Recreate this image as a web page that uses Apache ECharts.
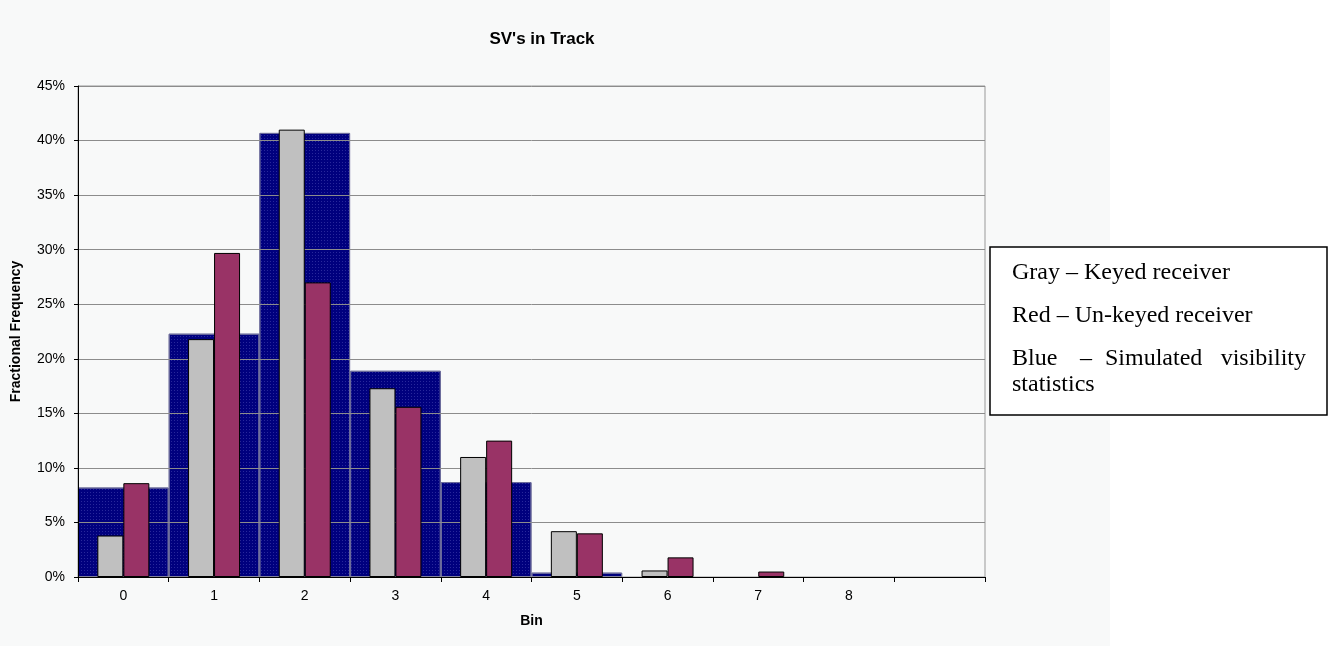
<!DOCTYPE html>
<html>
<head>
<meta charset="utf-8">
<script src="https://cdn.jsdelivr.net/npm/echarts@6/dist/echarts.min.js"></script>
<style>
  html, body { margin: 0; padding: 0; background: #ffffff; }
  #chart { width: 1333px; height: 646px; }
</style>
</head>
<body>
<div id="chart"></div>
<script>
// bins on the x axis (last slot is empty in the original)
const bins = ['0', '1', '2', '3', '4', '5', '6', '7', '8', ''];
// fractional frequency per bin
const simulated = [0.082, 0.223, 0.407, 0.189, 0.087, 0.004, 0, 0, 0, 0];
const keyed = [0.038, 0.218, 0.410, 0.173, 0.110, 0.042, 0.006, 0, 0, 0];
const unkeyed = [0.086, 0.297, 0.270, 0.156, 0.125, 0.040, 0.018, 0.005, 0, 0];

// empty bins are not drawn at all (a zero bar would leave a line on the axis)
const noZero = (arr) => arr.map((v) => (v === 0 ? '-' : v));

const chart = echarts.init(document.getElementById('chart'));

const legendFont = '24px "Liberation Serif", "Times New Roman", serif';

const options = {
  animation: false,
  title: {
    text: "SV's in Track",
    left: 537,
    top: 26,
    textAlign: 'center',
    textStyle: { fontFamily: 'Liberation Sans, Arial', fontWeight: 'bold', fontSize: 17, color: '#000' }
  },
  grid: {
    left: 78,
    right: 348,
    top: 86,
    bottom: 69,
    show: true,
    borderColor: '#999',
    borderWidth: 1,
    backgroundColor: 'transparent'
  },
  xAxis: [
    {
      type: 'category',
      data: bins,
      boundaryGap: true,
      name: 'Bin',
      nameLocation: 'middle',
      nameGap: 37,
      nameTextStyle: { fontFamily: 'Liberation Sans, Arial', fontWeight: 'bold', fontSize: 14, color: '#000' },
      axisLine: { lineStyle: { color: '#000', width: 1 } },
      axisTick: { show: true, length: 5, lineStyle: { color: '#000' } },
      axisLabel: { margin: 12, fontFamily: 'Liberation Sans, Arial', fontSize: 14, color: '#000', interval: 0 }
    },
    {
      type: 'category',
      data: bins,
      show: false
    }
  ],
  yAxis: {
    type: 'value',
    min: 0,
    max: 0.45,
    interval: 0.05,
    name: 'Fractional Frequency',
    nameLocation: 'middle',
    nameGap: 55,
    nameTextStyle: { fontFamily: 'Liberation Sans, Arial', fontWeight: 'bold', fontSize: 14, color: '#000' },
    axisLine: { show: true, lineStyle: { color: '#000', width: 1 } },
    axisTick: { show: true, length: 4, lineStyle: { color: '#000' } },
    axisLabel: {
      margin: 13,
      fontFamily: 'Liberation Sans, Arial',
      fontSize: 14,
      color: '#000',
      formatter: (v) => Math.round(v * 100) + '%'
    },
    splitLine: { lineStyle: { color: '#8c8c8c', width: 1 } }
  },
  series: [
    {
      name: 'Simulated',
      type: 'bar',
      xAxisIndex: 1,
      data: noZero(simulated),
      barWidth: '100%',
      z: -1,
      itemStyle: {
        color: '#00007e',
        borderColor: '#6a6a9a',
        borderWidth: 1,
        decal: {
          symbol: 'rect',
          symbolSize: 1,
          color: 'rgba(100,100,200,0.4)',
          dashArrayX: [1, 2],
          dashArrayY: [1, 2]
        }
      }
    },
    {
      name: 'Keyed',
      type: 'bar',
      xAxisIndex: 0,
      data: noZero(keyed),
      barWidth: 26,
      barGap: '0%',
      itemStyle: { color: '#c0c0c0', borderColor: '#000', borderWidth: 1 }
    },
    {
      name: 'Un-keyed',
      type: 'bar',
      xAxisIndex: 0,
      data: noZero(unkeyed),
      barWidth: 26,
      barGap: '0%',
      itemStyle: { color: '#993366', borderColor: '#000', borderWidth: 1 }
    }
  ],
  graphic: [
    {
      type: 'rect',
      z: -10,
      silent: true,
      shape: { x: 0, y: 0, width: 1110, height: 646 },
      style: { fill: '#f8f9f9' }
    },
    {
      type: 'rect',
      shape: { x: 990, y: 247, width: 337, height: 168 },
      style: { fill: '#ffffff', stroke: '#000', lineWidth: 1.5 }
    },
    { type: 'text', style: { text: 'Gray – Keyed receiver', x: 1012, y: 273, font: legendFont, fill: '#000', verticalAlign: 'middle' } },
    { type: 'text', style: { text: 'Red – Un-keyed receiver', x: 1012, y: 316, font: legendFont, fill: '#000', verticalAlign: 'middle' } },
    { type: 'text', style: { text: 'Blue', x: 1012, y: 359, font: legendFont, fill: '#000', verticalAlign: 'middle' } },
    { type: 'text', style: { text: '–', x: 1080, y: 359, font: legendFont, fill: '#000', verticalAlign: 'middle' } },
    { type: 'text', style: { text: 'Simulated', x: 1105, y: 359, font: legendFont, fill: '#000', verticalAlign: 'middle' } },
    { type: 'text', style: { text: 'visibility', x: 1306, y: 359, font: legendFont, fill: '#000', verticalAlign: 'middle', align: 'right' } },
    { type: 'text', style: { text: 'statistics', x: 1012, y: 385, font: legendFont, fill: '#000', verticalAlign: 'middle' } }
  ]
};

chart.setOption(options);

window.addEventListener('resize', () => {
  chart.resize();
});
</script>
</body>
</html>
